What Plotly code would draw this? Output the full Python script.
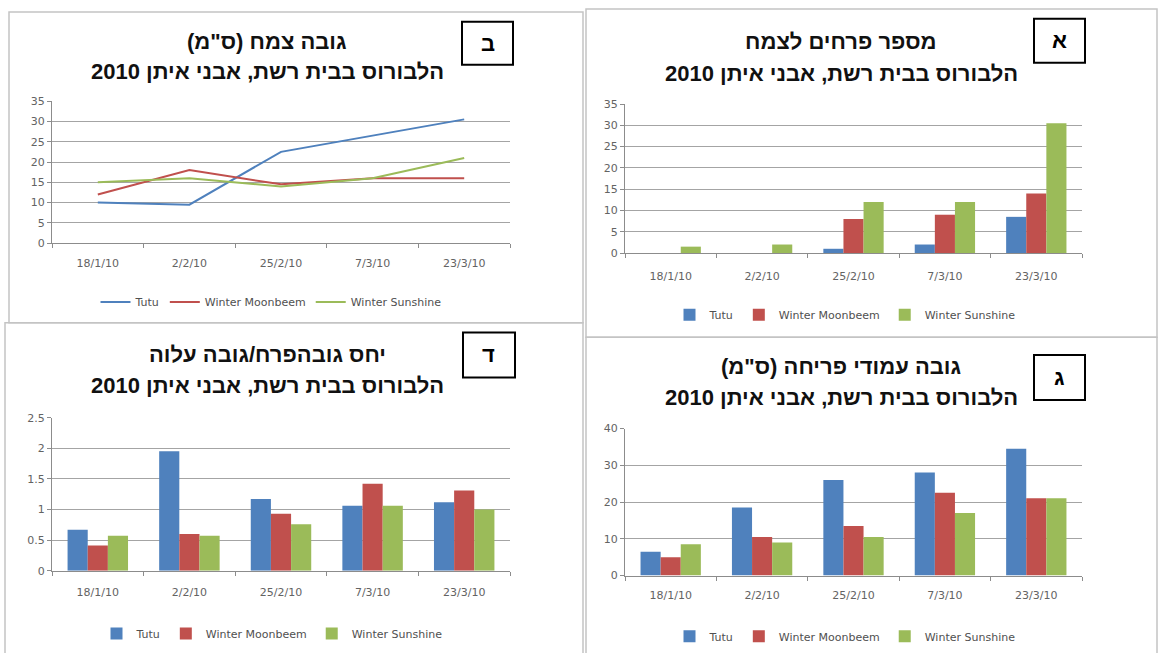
import plotly.graph_objects as go

W, H = 1163, 660

dates = ["18/1/10", "2/2/10", "25/2/10", "7/3/10", "23/3/10"]
series_names = ["Tutu", "Winter Moonbeem", "Winter Sunshine"]
series_colors = ["#4F81BD", "#C0504D", "#9BBB59"]

# ב - plant height (cm)
height_tutu = [10, 9.5, 22.5, 26.5, 30.5]
height_moon = [12, 18, 14.5, 16, 16]
height_sun = [15, 16, 14, 16, 21]

# א - flowers per plant
flowers_tutu = [0, 0, 1, 2, 8.5]
flowers_moon = [0, 0, 8, 9, 14]
flowers_sun = [1.5, 2, 12, 12, 30.5]

# ד - flower height / leaf height ratio
ratio_tutu = [0.67, 1.95, 1.17, 1.06, 1.12]
ratio_moon = [0.41, 0.60, 0.93, 1.42, 1.31]
ratio_sun = [0.57, 0.57, 0.76, 1.06, 1.00]

# ג - flower stem height (cm)
stem_tutu = [6.5, 18.5, 26, 28, 34.5]
stem_moon = [5, 10.5, 13.5, 22.5, 21]
stem_sun = [8.5, 9, 10.5, 17, 21]

subtitle = "הלבורוס בבית רשת, אבני איתן 2010"
titles = ["גובה צמח (ס\"מ)", "מספר פרחים לצמח", "יחס גובהפרח/גובה עלוה", "גובה עמודי פריחה (ס\"מ)"]
letters = ["ב", "א", "ד", "ג"]

RLM = "\u200f"


def fx(x):
    return x / W


def fy(y):
    return 1 - y / H


fig = go.Figure()

# panel definitions (pixel geometry)
panels = [
    dict(ax="", plot=(52, 510, 97, 242), border=(9, 583, 6, 323), closed=True, box=(462, 513, 16, 60),
         title_c=267, t1=36, t2=67, legend_x=271, legend_y=302, yrange=[0, 35], dtick=5, standoff=10),
    dict(ax="2", plot=(625, 1082, 100, 252), border=(586, 1157, 3, 338), closed=True, box=(1034, 1085, 13, 58),
         title_c=841, t1=36, t2=69, legend_x=845, legend_y=315, yrange=[0, 35], dtick=5, standoff=13),
    dict(ax="3", plot=(52, 510, 420, 576), border=(5, 583, 323, 660), closed=False, box=(463, 515, 333, 379),
         title_c=267, t1=355, t2=387, legend_x=272, legend_y=640, yrange=[0, 2.5], dtick=0.5, standoff=11),
    dict(ax="4", plot=(625, 1082, 431, 581), border=(586, 1157, 338, 660), closed=False, box=(1034, 1085, 356, 402),
         title_c=841, t1=368, t2=399, legend_x=845, legend_y=643, yrange=[0, 40], dtick=10, standoff=9),
]

data_sets = [
    ("line", [height_tutu, height_moon, height_sun]),
    ("bar", [flowers_tutu, flowers_moon, flowers_sun]),
    ("bar", [ratio_tutu, ratio_moon, ratio_sun]),
    ("bar", [stem_tutu, stem_moon, stem_sun]),
]

tick_font = dict(family="DejaVu Sans", size=11, color="#636363")
legend_font = dict(family="DejaVu Sans", size=11, color="#505050")

layout = {}
shapes = []
annotations = []

for i, (p, (kind, vals)) in enumerate(zip(panels, data_sets)):
    ax = p["ax"]
    xa = "x" + ax
    ya = "y" + ax
    legend_name = "legend" + ax
    for name, color, v in zip(series_names, series_colors, vals):
        if kind == "line":
            fig.add_trace(go.Scatter(x=dates, y=v, mode="lines", name=name,
                                     line=dict(color=color, width=2),
                                     xaxis=xa, yaxis=ya, legend=legend_name))
        else:
            fig.add_trace(go.Bar(x=dates, y=v, name=name, marker=dict(color=color, line=dict(width=0)),
                                 xaxis=xa, yaxis=ya, legend=legend_name))
    x0, x1, y0, y1 = p["plot"]
    layout["xaxis" + ax] = dict(
        domain=[fx(x0), fx(x1)], anchor=ya, type="category", range=[-0.5, 4.5],
        showline=True, linecolor="#8c8c8c", linewidth=1, ticks="outside", ticklen=4,
        tickcolor="#8c8c8c", tickson="boundaries", showgrid=False, tickfont=tick_font,
        ticklabelstandoff=p["standoff"], fixedrange=True,
    )
    layout["yaxis" + ax] = dict(
        domain=[fy(y1), fy(y0)], anchor=xa, range=p["yrange"], dtick=p["dtick"],
        showline=True, linecolor="#8c8c8c", linewidth=1, ticks="outside", ticklen=4,
        tickcolor="#8c8c8c", showgrid=True, gridcolor="#a4a4a4", gridwidth=1,
        zeroline=False, tickfont=tick_font, fixedrange=True,
    )
    layout[legend_name] = dict(
        orientation="h", x=fx(p["legend_x"]), xanchor="center", y=fy(p["legend_y"]),
        yanchor="middle", font=legend_font, bgcolor="rgba(0,0,0,0)", itemclick=False,
        itemdoubleclick=False, traceorder="normal",
    )
    # panel border
    bx0, bx1, by0, by1 = p["border"]
    if p["closed"]:
        shapes.append(dict(type="rect", xref="paper", yref="paper", x0=fx(bx0), x1=fx(bx1),
                           y0=fy(by1), y1=fy(by0), line=dict(color="#c4c4c4", width=1.5),
                           layer="below"))
    else:
        path = "M {a},{b} L {a},{c} L {d},{c} L {d},{b}".format(
            a=fx(bx0), b=fy(by1), c=fy(by0), d=fx(bx1))
        shapes.append(dict(type="path", xref="paper", yref="paper", path=path,
                           line=dict(color="#c4c4c4", width=1.5), layer="below"))
    # letter box
    lx0, lx1, ly0, ly1 = p["box"]
    shapes.append(dict(type="rect", xref="paper", yref="paper", x0=fx(lx0), x1=fx(lx1),
                       y0=fy(ly1), y1=fy(ly0), line=dict(color="#000000", width=2),
                       fillcolor="white"))
    annotations.append(dict(text=letters[i], xref="paper", yref="paper",
                            x=fx((lx0 + lx1) / 2), y=fy((ly0 + ly1) / 2), xanchor="center",
                            yanchor="middle", showarrow=False,
                            font=dict(family="Liberation Sans", size=22, color="#000000",
                                      weight="bold")))
    # titles
    annotations.append(dict(text=RLM + titles[i] + RLM, xref="paper", yref="paper",
                            x=fx(p["title_c"]), y=fy(p["t1"]), xanchor="center",
                            yanchor="middle", showarrow=False,
                            font=dict(family="Liberation Sans", size=22, color="#111111",
                                      weight="bold")))
    annotations.append(dict(text=RLM + subtitle + RLM, xref="paper", yref="paper",
                            x=fx(p["title_c"]), y=fy(p["t2"]), xanchor="center",
                            yanchor="middle", showarrow=False,
                            font=dict(family="Liberation Sans", size=22, color="#111111",
                                      weight="bold")))

fig.update_layout(
    width=W, height=H, margin=dict(l=0, r=0, t=0, b=0),
    paper_bgcolor="white", plot_bgcolor="white",
    barmode="group", bargap=0.34, bargroupgap=0,
    shapes=shapes, annotations=annotations, showlegend=True,
    **layout,
)

post = ("document.body.style.margin='0';"
        "document.body.style.overflow='hidden';"
        "var gd=document.getElementById('{plot_id}');"
        "gd.style.position='absolute';gd.style.left='0px';gd.style.top='0px';")

fig.write_html("out.html", config={"displayModeBar": False}, post_script=post)
